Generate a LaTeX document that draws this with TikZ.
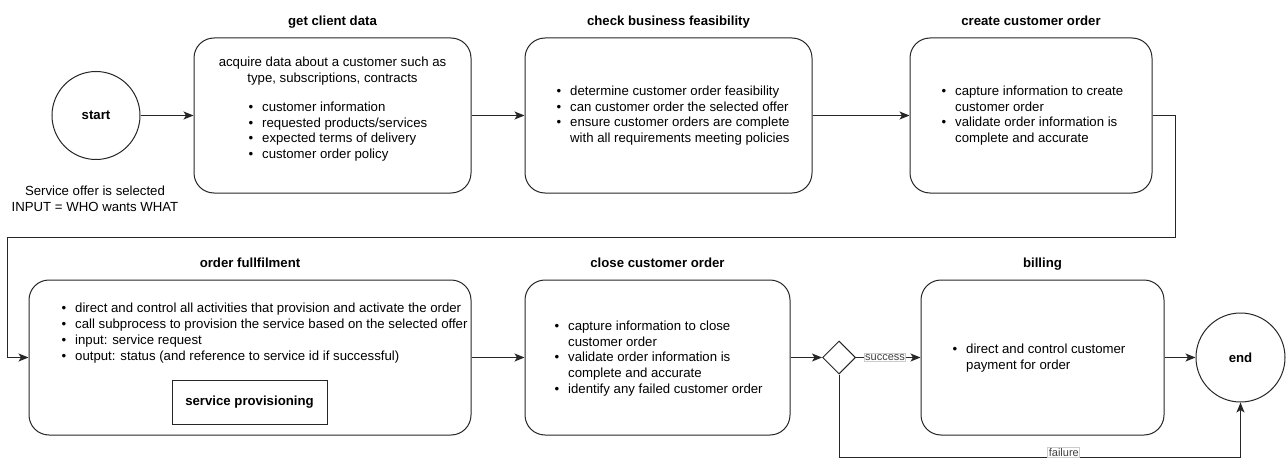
\documentclass[tikz,border=0pt]{standalone}
\usepackage{fontspec}
\setmainfont{Liberation Sans}
\usetikzlibrary{shapes.geometric,arrows.meta}
\newcommand{\bu}{\makebox[13.5pt][l]{\textbullet}}
\newcommand{\ind}{\hspace*{13.5pt}}

\begin{document}
\begin{tikzpicture}[x=1pt,y=-1pt,
  stepbox/.style={draw=black!85,line width=1pt,rounded corners=20pt,minimum width=#1,minimum height=155pt},
  stepbox/.default=250pt,
  steptitle/.style={font=\fontsize{13.2}{15.8}\selectfont\bfseries,anchor=base,inner sep=0pt},
  steptext/.style={font=\fontsize{13.2}{15.8}\selectfont,align=left,anchor=west,inner sep=0pt},
  terminal/.style={circle,draw=black!85,line width=1pt,minimum size=88pt,font=\fontsize{13.2}{15.8}\selectfont\bfseries},
  decision/.style={diamond,draw=black!85,line width=1pt,minimum width=33pt,minimum height=33pt,inner sep=0pt},
  flow/.style={draw=black!85,line width=1pt,-{Stealth[length=10pt,width=8pt,inset=2.5pt]}},
  flowlabel/.style={font=\fontsize{11}{13}\selectfont,fill=white,draw=black!20,inner sep=1pt,text=black!75}]
\useasboundingbox (0,0) rectangle (1286,460);

\node[terminal] (start) at (96,115.5) {start};
\node[font=\fontsize{13.2}{15.8}\selectfont,align=center] (input) at (95,199) {Service offer is selected\\INPUT = WHO wants WHAT};

\node[stepbox=277pt] (getdata) at (332.5,115.5) {};
\node[steptitle] (gettitle) at (332.5,25.4) {get client data};
\node[font=\fontsize{13.2}{15.8}\selectfont,align=center,inner sep=0pt] (getintro) at (332.5,71) {acquire data about a customer such as\\type, subscriptions, contracts};
\node[steptext] (getlist) at (248.5,131.5) {\bu customer information\\\bu requested products/services\\\bu expected terms of delivery\\\bu customer order policy};

\node[stepbox=287pt] (feasib) at (668.5,115.5) {};
\node[steptitle] (feasibtitle) at (668.5,25.4) {check business feasibility};
\node[steptext] (feasiblist) at (556.5,115.5) {\bu determine customer order feasibility\\\bu can customer order the selected offer\\\bu ensure customer orders are complete\\\ind with all requirements meeting policies};

\node[stepbox=242pt] (create) at (1031,115.5) {};
\node[steptitle] (createtitle) at (1031,25.4) {create customer order};
\node[steptext] (createlist) at (941.5,115.5) {\bu capture information to create\\\ind customer order\\\bu validate order information is\\\ind complete and accurate};

\node[stepbox=442pt] (fulfil) at (250,357.5) {};
\node[steptitle] (fulfiltitle) at (250,267.4) {order fullfilment};
\node[steptext] (fulfillist) at (61.5,333) {\bu direct and control all activities that provision and activate the order\\\bu call subprocess to provision the service based on the selected offer\\\bu input: service request\\\bu output: status (and reference to service id if successful)};
\node[draw=black!85,line width=1pt,minimum width=155pt,minimum height=44pt,font=\fontsize{13.2}{15.8}\selectfont\bfseries] (provis) at (249.5,402) {service provisioning};

\node[stepbox=265pt] (close) at (657.5,357.5) {};
\node[steptitle] (closetitle) at (657.5,267.4) {close customer order};
\node[steptext] (closelist) at (554.5,358.5) {\bu capture information to close\\\ind customer order\\\bu validate order information is\\\ind complete and accurate\\\bu identify any failed customer order};

\node[decision] (gate) at (839,357.5) {};

\node[stepbox=243pt] (billing) at (1042.5,357.5) {};
\node[steptitle] (billingtitle) at (1042.5,267.4) {billing};
\node[steptext] (billinglist) at (952.5,358) {\bu direct and control customer\\\ind payment for order};

\node[terminal,minimum size=89pt] (stop) at (1240.5,357.5) {end};

\coordinate (turnA) at (1175,237);
\coordinate (turnB) at (7,237);
\coordinate (failturn) at (839,457);

\draw[flow] (start) -- (getdata);
\draw[flow] (getdata) -- (feasib);
\draw[flow] (feasib) -- (create);
\draw[flow] (create.east) -| (turnA) -- (turnB) |- (fulfil.west);
\draw[flow] (fulfil) -- (close);
\draw[flow] (close) -- (gate);
\draw[flow] (gate) -- node[flowlabel,pos=0.45] (succlabel) {success} (billing);
\draw[flow] (billing) -- (stop);
\draw[flow] (gate.south) -- (failturn) -| node[flowlabel,pos=0.28,yshift=4.5pt] (faillabel) {failure} (stop.south);
\end{tikzpicture}
\end{document}
